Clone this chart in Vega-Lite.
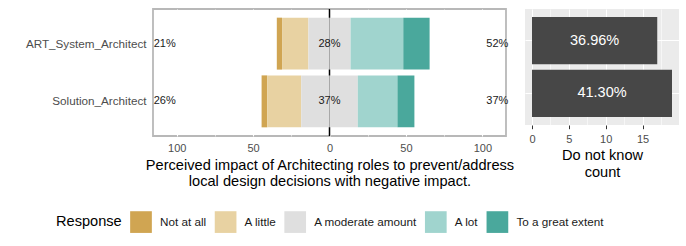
{
  "$schema": "https://vega.github.io/schema/vega-lite/v6.json",
  "padding": {"left": 24, "top": 7, "right": 0, "bottom": 0},
  "background": "white",
  "config": {"font": "Liberation Sans", "view": {"stroke": null}},
  "datasets": {
    "likert": [
      {"role": "ART_System_Architect", "response": "Not at all", "pct": -3.45},
      {"role": "ART_System_Architect", "response": "A little", "pct": -17.24},
      {"role": "ART_System_Architect", "response": "A moderate amount", "pct": -13.79},
      {"role": "ART_System_Architect", "response": "A moderate amount", "pct": 13.79},
      {"role": "ART_System_Architect", "response": "A lot", "pct": 34.48},
      {"role": "ART_System_Architect", "response": "To a great extent", "pct": 17.24},
      {"role": "Solution_Architect", "response": "Not at all", "pct": -3.70},
      {"role": "Solution_Architect", "response": "A little", "pct": -22.22},
      {"role": "Solution_Architect", "response": "A moderate amount", "pct": -18.52},
      {"role": "Solution_Architect", "response": "A moderate amount", "pct": 18.52},
      {"role": "Solution_Architect", "response": "A lot", "pct": 25.93},
      {"role": "Solution_Architect", "response": "To a great extent", "pct": 11.11}
    ],
    "labels": [
      {"role": "ART_System_Architect", "low": "21%", "mid": "28%", "high": "52%"},
      {"role": "Solution_Architect", "low": "26%", "mid": "37%", "high": "37%"}
    ],
    "dk": [
      {"role": "ART_System_Architect", "count": 17, "pct": "36.96%"},
      {"role": "Solution_Architect", "count": 19, "pct": "41.30%"}
    ]
  },
  "bounds": "flush",
  "spacing": 19,
  "hconcat": [
    {
      "width": 353,
      "height": 127,
      "view": {"stroke": "#B8B8B8", "strokeWidth": 1.8, "fill": "white"},
      "layer": [
        {
          "data": {"values": [{}]},
          "mark": {"type": "rule", "color": "black", "strokeWidth": 1.5},
          "encoding": {
            "x": {"datum": 0, "type": "quantitative",
              "axis": {"orient": "top", "values": [-75, -25, 25, 75], "labels": false, "ticks": false, "domain": false, "grid": true, "gridColor": "white", "gridWidth": 0.6, "title": null}}
          }
        },
        {
          "data": {"name": "likert"},
          "transform": [{"calculate": "indexof(['A moderate amount','A little','A lot','Not at all','To a great extent'], datum.response)", "as": "rank"}],
          "mark": {"type": "bar"},
          "encoding": {
            "y": {"field": "role", "type": "nominal",
              "scale": {"paddingInner": 0.1, "paddingOuter": 0.15},
              "axis": {"title": null, "domain": false, "ticks": false, "grid": false, "labelPadding": 7, "labelFontSize": 11.7, "labelColor": "#4D4D4D"}},
            "x": {"field": "pct", "type": "quantitative", "stack": "zero",
              "scale": {"domain": [-115.5, 115.5], "nice": false, "zero": false},
              "axis": {"values": [-100, -50, 0, 50, 100], "labelExpr": "'' + abs(datum.value)", "ticks": false, "domain": false, "grid": true, "gridColor": "white", "gridWidth": 1.1, "labelColor": "#4D4D4D", "labelFontSize": 11, "labelPadding": 6,
                "title": ["Perceived impact of Architecting roles to prevent/address", "local design decisions with negative impact."],
                "titleFontSize": 14.6, "titleFontWeight": "normal", "titleColor": "black", "titleLineHeight": 16.7, "titlePadding": 4}},
            "color": {"field": "response", "type": "nominal",
              "scale": {"domain": ["Not at all", "A little", "A moderate amount", "A lot", "To a great extent"],
                        "range": ["#D0A552", "#E8D2A2", "#DFDFDF", "#A0D4CE", "#4AA89C"]},
              "legend": {"orient": "none", "legendX": -97, "legendY": 202, "direction": "horizontal", "columns": 5,
                "title": "Response", "titleOrient": "left", "titleFontSize": 14.6, "titleFontWeight": "normal", "titleColor": "black", "titlePadding": 8,
                "labelFontSize": 11.7, "labelColor": "#1A1A1A", "symbolType": "square", "symbolSize": 471, "symbolStrokeWidth": 0, "symbolOpacity": 1,
                "labelOffset": 8, "columnPadding": 7.6}},
            "order": {"field": "rank", "type": "quantitative"}
          }
        },
        {
          "data": {"name": "labels"},
          "mark": {"type": "text", "align": "right", "dx": -1, "fontSize": 11, "color": "#1A1A1A"},
          "encoding": {
            "y": {"field": "role", "type": "nominal"},
            "x": {"datum": -100, "type": "quantitative", "axis": null},
            "text": {"field": "low"}
          }
        },
        {
          "data": {"name": "labels"},
          "mark": {"type": "text", "align": "center", "fontSize": 11, "color": "#1A1A1A"},
          "encoding": {
            "y": {"field": "role", "type": "nominal"},
            "x": {"datum": 0, "type": "quantitative", "axis": null},
            "text": {"field": "mid"}
          }
        },
        {
          "data": {"name": "labels"},
          "mark": {"type": "text", "align": "left", "dx": 4, "fontSize": 11, "color": "#1A1A1A"},
          "encoding": {
            "y": {"field": "role", "type": "nominal"},
            "x": {"datum": 100, "type": "quantitative", "axis": null},
            "text": {"field": "high"}
          }
        }
      ],
      "resolve": {"axis": {"x": "independent"}}
    },
    {
      "width": 154,
      "height": 116,
      "data": {"name": "dk"},
      "view": {"fill": "#EBEBEB", "stroke": null},
      "layer": [
        {
          "mark": {"type": "bar", "color": "#474747"},
          "encoding": {
            "y": {"field": "role", "type": "nominal",
              "scale": {"paddingInner": 0.1, "paddingOuter": 0.15},
              "axis": {"labels": false, "ticks": false, "domain": false, "title": null, "grid": true, "gridColor": "white", "gridWidth": 1.1}},
            "x": {"field": "count", "type": "quantitative",
              "scale": {"domain": [-0.95, 19.95], "nice": false, "zero": false},
              "axis": {"values": [0, 5, 10, 15], "grid": true, "gridColor": "white", "gridWidth": 1.1, "domain": false, "ticks": true, "tickColor": "#333333", "tickSize": 3.7, "tickWidth": 1,
                "labelColor": "#4D4D4D", "labelFontSize": 11, "labelPadding": 5,
                "title": ["Do not know", "count"], "titleFontSize": 14.6, "titleFontWeight": "normal", "titleColor": "black", "titleLineHeight": 16.7, "titlePadding": 3}}
          }
        },
        {
          "transform": [{"calculate": "datum.count / 2", "as": "mid"}],
          "mark": {"type": "text", "color": "white", "fontSize": 14.5},
          "encoding": {
            "y": {"field": "role", "type": "nominal"},
            "x": {"field": "mid", "type": "quantitative",
              "axis": {"orient": "top", "values": [2.5, 7.5, 12.5, 17.5], "labels": false, "ticks": false, "domain": false, "grid": true, "gridColor": "white", "gridWidth": 0.55, "title": null}},
            "text": {"field": "pct"}
          }
        }
      ],
      "resolve": {"axis": {"x": "independent"}}
    }
  ]
}
